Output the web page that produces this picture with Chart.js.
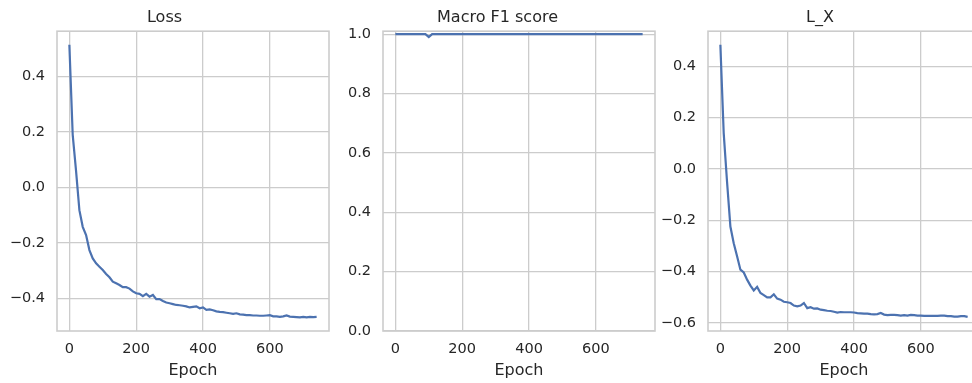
<!DOCTYPE html>
<html>
<head>
<meta charset="utf-8">
<script src="https://cdn.jsdelivr.net/npm/chart.js@4.4.1/dist/chart.umd.min.js"></script>
<style>
  html, body { margin: 0; padding: 0; background: #ffffff; overflow: hidden; }
  body { width: 972px; height: 383px; position: relative; }
  canvas { position: absolute; top: 0; }
</style>
</head>
<body>
<canvas id="lossChart" width="340" height="383" style="left:0px"></canvas>
<canvas id="f1Chart" width="320" height="383" style="left:340px"></canvas>
<canvas id="lxChart" width="330" height="383" style="left:660px"></canvas>
<script>
// data (one point every 10 epochs)
const epochs = [0, 10, 20, 30, 40, 50, 60, 70, 80, 90,
  100, 110, 120, 130, 140, 150, 160, 170, 180, 190,
  200, 210, 220, 230, 240, 250, 260, 270, 280, 290,
  300, 310, 320, 330, 340, 350, 360, 370, 380, 390,
  400, 410, 420, 430, 440, 450, 460, 470, 480, 490,
  500, 510, 520, 530, 540, 550, 560, 570, 580, 590,
  600, 610, 620, 630, 640, 650, 660, 670, 680, 690,
  700, 710, 720, 730, 740];

const lossValues = [0.515, 0.19, 0.06, -0.082, -0.142, -0.172, -0.226, -0.256, -0.274, -0.286,
  -0.298, -0.312, -0.324, -0.340, -0.346, -0.352, -0.360, -0.360, -0.365, -0.375,
  -0.382, -0.384, -0.392, -0.384, -0.394, -0.388, -0.403, -0.403, -0.410, -0.415,
  -0.418, -0.421, -0.424, -0.425, -0.427, -0.429, -0.433, -0.431, -0.429, -0.436,
  -0.433, -0.442, -0.440, -0.443, -0.447, -0.449, -0.450, -0.452, -0.454, -0.456,
  -0.454, -0.458, -0.459, -0.461, -0.461, -0.462, -0.462, -0.463, -0.463, -0.462,
  -0.461, -0.465, -0.465, -0.467, -0.465, -0.462, -0.466, -0.467, -0.468, -0.469,
  -0.467, -0.469, -0.467, -0.468, -0.467];

const f1Values = [1.0, 1.0, 1.0, 1.0, 1.0, 1.0, 1.0, 1.0, 1.0, 1.0,
  0.99, 1.0, 1.0, 1.0, 1.0, 1.0, 1.0, 1.0, 1.0, 1.0,
  1.0, 1.0, 1.0, 1.0, 1.0, 1.0, 1.0, 1.0, 1.0, 1.0,
  1.0, 1.0, 1.0, 1.0, 1.0, 1.0, 1.0, 1.0, 1.0, 1.0,
  1.0, 1.0, 1.0, 1.0, 1.0, 1.0, 1.0, 1.0, 1.0, 1.0,
  1.0, 1.0, 1.0, 1.0, 1.0, 1.0, 1.0, 1.0, 1.0, 1.0,
  1.0, 1.0, 1.0, 1.0, 1.0, 1.0, 1.0, 1.0, 1.0, 1.0,
  1.0, 1.0, 1.0, 1.0, 1.0];

const lxValues = [0.484, 0.14, -0.05, -0.224, -0.289, -0.340, -0.392, -0.403, -0.431, -0.454,
  -0.473, -0.459, -0.483, -0.491, -0.500, -0.500, -0.488, -0.505, -0.509, -0.517,
  -0.519, -0.522, -0.532, -0.535, -0.532, -0.522, -0.542, -0.538, -0.544, -0.543,
  -0.548, -0.550, -0.552, -0.553, -0.556, -0.559, -0.557, -0.558, -0.558, -0.558,
  -0.559, -0.561, -0.562, -0.563, -0.563, -0.565, -0.566, -0.565, -0.561, -0.567,
  -0.569, -0.568, -0.568, -0.569, -0.571, -0.569, -0.571, -0.568, -0.569, -0.571,
  -0.571, -0.572, -0.572, -0.572, -0.572, -0.572, -0.571, -0.571, -0.573, -0.573,
  -0.575, -0.575, -0.573, -0.573, -0.576];

const xTicks = [0, 200, 400, 600];
const lossTicks = [-0.4, -0.2, 0.0, 0.2, 0.4];
const f1Ticks = [0.0, 0.2, 0.4, 0.6, 0.8, 1.0];
const lxTicks = [-0.6, -0.4, -0.2, 0.0, 0.2, 0.4];

const TEXT = '#262626';
const GRID = '#cccccc';
const LINE = '#4c72b0';

Chart.defaults.font.family = "'DejaVu Sans', sans-serif";
Chart.defaults.color = TEXT;

// axes frame like matplotlib spines
const framePlugin = {
  id: 'frame',
  afterDatasetsDraw(chart) {
    const a = chart.chartArea;
    const ctx = chart.ctx;
    ctx.save();
    ctx.strokeStyle = GRID;
    ctx.lineWidth = 1.6;
    ctx.strokeRect(a.left, a.top, a.right - a.left, a.bottom - a.top);
    ctx.restore();
  }
};

function fmtY(v) {
  const s = Math.abs(v).toFixed(1);
  return (v < -1e-9 ? '\u2212' : '') + s;
}

function makePanel(id, title, values, yMin, yMax, yTicks, yWidth, padRight) {
  const points = values.map((v, i) => ({ x: epochs[i], y: v }));
  return new Chart(document.getElementById(id), {
    type: 'line',
    data: {
      datasets: [{
        data: points,
        borderColor: LINE,
        borderWidth: 2.2,
        pointRadius: 0,
        tension: 0,
        fill: false
      }]
    },
    options: {
      responsive: false,
      animation: false,
      devicePixelRatio: 1,
      layout: { padding: { left: 0, right: padRight, top: 0, bottom: 0 } },
      plugins: {
        legend: { display: false },
        tooltip: { enabled: false },
        title: {
          display: true,
          text: title,
          color: TEXT,
          font: { size: 16, weight: 'normal' },
          padding: { top: 8, bottom: 4 }
        }
      },
      scales: {
        x: {
          type: 'linear',
          min: -37,
          max: 777,
          afterBuildTicks: axis => { axis.ticks = xTicks.map(v => ({ value: v })); },
          afterFit: axis => { axis.height = 52; },
          grid: { color: GRID, lineWidth: 1.3, drawTicks: false },
          border: { display: false },
          ticks: { padding: 10, font: { size: 14.5 }, color: TEXT, maxRotation: 0,
                   callback: v => String(v) },
          title: { display: true, text: 'Epoch', color: TEXT, font: { size: 16 },
                   padding: { top: 0, bottom: 3 } }
        },
        y: {
          type: 'linear',
          min: yMin,
          max: yMax,
          afterBuildTicks: axis => { axis.ticks = yTicks.map(v => ({ value: v })); },
          afterFit: axis => { axis.width = yWidth; },
          grid: { color: GRID, lineWidth: 1.3, drawTicks: false },
          border: { display: false },
          ticks: { padding: 12, font: { size: 14.5 }, color: TEXT, callback: v => fmtY(v) }
        }
      }
    },
    plugins: [framePlugin]
  });
}

makePanel('lossChart', 'Loss', lossValues, -0.518, 0.564, lossTicks, 57, 11);
makePanel('f1Chart', 'Macro F1 score', f1Values, 0, 1.01, f1Ticks, 43, 5);
makePanel('lxChart', 'L_X', lxValues, -0.631, 0.537, lxTicks, 48, 10);
</script>
</body>
</html>
